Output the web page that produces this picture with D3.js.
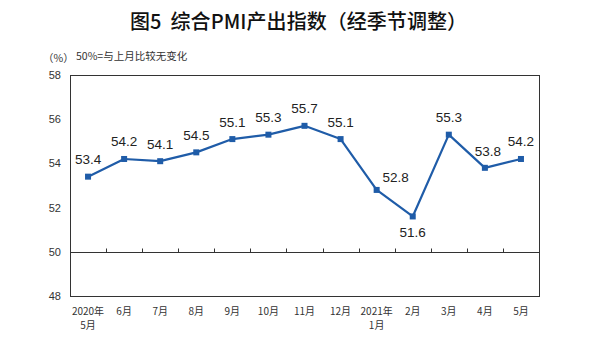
<!DOCTYPE html>
<html>
<head>
<meta charset="utf-8">
<script src="https://cdn.jsdelivr.net/npm/d3@7"></script>
<style>
  html, body { margin: 0; padding: 0; background: #fff; }
  svg { display: block; }
</style>
</head>
<body>
<svg id="chart" width="596" height="339"></svg>
<script>
// Composite PMI output index, seasonally adjusted
const categories = ["2020年\n5月", "6月", "7月", "8月", "9月", "10月", "11月", "12月",
                    "2021年\n1月", "2月", "3月", "4月", "5月"];
const values = [53.4, 54.2, 54.1, 54.5, 55.1, 55.3, 55.7, 55.1, 52.8, 51.6, 55.3, 53.8, 54.2];
const yTicks = [48, 50, 52, 54, 56, 58];

const svg = d3.select("#chart");
const W = 596, H = 339;
const plot = { left: 70, right: 539, top: 75, bottom: 296 };
const lineColor = "#1f5ca8";
const axisColor = "#333";

svg.append("rect").attr("width", W).attr("height", H).attr("fill", "#fff");

const x = d3.scaleBand().domain(d3.range(categories.length))
  .range([plot.left, plot.right]).padding(0);
const y = d3.scaleLinear().domain([48, 58]).range([plot.bottom, plot.top]);
const cx = i => x(i) + x.bandwidth() / 2;

// Title
svg.append("text")
  .attr("x", 130).attr("y", 29)
  .attr("font-family", "'Noto Sans CJK SC', sans-serif")
  .attr("font-weight", 500)
  .attr("font-size", 20)
  .attr("fill", "#111")
  .style("white-space", "pre")
  .attr("textLength", 337)
  .attr("lengthAdjust", "spacing")
  .text("图5  综合PMI产出指数（经季节调整）");

// Unit and note
svg.append("text")
  .attr("x", 43).attr("y", 62)
  .attr("font-family", "'Noto Sans CJK SC', sans-serif")
  .attr("font-size", 10.5).attr("fill", "#333")
  .text("（%）");
svg.append("text")
  .attr("x", 76).attr("y", 60)
  .attr("font-family", "'Noto Sans CJK SC', sans-serif")
  .attr("font-size", 10.5).attr("fill", "#333")
  .text("50%=与上月比较无变化");

// Plot frame
svg.append("rect")
  .attr("x", plot.left + 0.5).attr("y", plot.top + 0.5)
  .attr("width", plot.right - plot.left).attr("height", plot.bottom - plot.top)
  .attr("fill", "none").attr("stroke", axisColor).attr("stroke-width", 1);

// Y axis labels
const yAxis = d3.axisLeft(y).tickValues(yTicks).tickSize(0).tickPadding(9).tickFormat(d3.format("d"));
const gy = svg.append("g").attr("transform", `translate(${plot.left},0)`).call(yAxis);
gy.select(".domain").remove();
gy.selectAll("text")
  .attr("font-family", "'Liberation Sans', Arial, sans-serif")
  .attr("font-size", 11).attr("fill", "#333");

// Category axis sits on the 50 line, ticks at band boundaries
const base = Math.round(y(50)) + 0.5;
svg.append("line")
  .attr("x1", plot.left).attr("x2", plot.right)
  .attr("y1", base).attr("y2", base)
  .attr("stroke", axisColor).attr("stroke-width", 1);
svg.append("g").selectAll("line")
  .data(d3.range(1, categories.length))
  .join("line")
  .attr("x1", i => Math.round(x(i)) + 0.5).attr("x2", i => Math.round(x(i)) + 0.5)
  .attr("y1", base).attr("y2", base - 4)
  .attr("stroke", axisColor).attr("stroke-width", 1);

// Category labels below the plot
const xl = svg.append("g").selectAll("text")
  .data(categories)
  .join("text")
  .attr("x", (d, i) => cx(i))
  .attr("y", 315)
  .attr("text-anchor", "middle")
  .attr("font-family", "'Noto Sans CJK SC', sans-serif")
  .attr("font-size", 10).attr("fill", "#333");
xl.each(function (d) {
  const lines = d.split("\n");
  const t = d3.select(this);
  lines.forEach((ln, k) => {
    t.append("tspan").attr("x", t.attr("x")).attr("dy", k === 0 ? 0 : 14).text(ln);
  });
});

// Line and markers
const line = d3.line().x((d, i) => cx(i)).y(d => y(d));
svg.append("path")
  .datum(values)
  .attr("d", line)
  .attr("fill", "none")
  .attr("stroke", lineColor)
  .attr("stroke-width", 2.2)
  .attr("stroke-linejoin", "round");

const m = 6;
svg.append("g").selectAll("rect")
  .data(values)
  .join("rect")
  .attr("x", (d, i) => cx(i) - m / 2)
  .attr("y", d => y(d) - m / 2)
  .attr("width", m).attr("height", m)
  .attr("fill", lineColor);

// Value labels: above the point, except where the line dips
const labelOffset = (d, i) => {
  if (i === 8) return [19, -8];
  if (i === 9) return [0, 21];
  if (i === 11) return [3, -12];
  return [0, -12.5];
};
svg.append("g").selectAll("text")
  .data(values)
  .join("text")
  .attr("x", (d, i) => cx(i) + labelOffset(d, i)[0])
  .attr("y", (d, i) => y(d) + labelOffset(d, i)[1])
  .attr("text-anchor", "middle")
  .attr("font-family", "'Liberation Sans', Arial, sans-serif")
  .attr("font-size", 13.5).attr("fill", "#222")
  .text(d => d3.format(".1f")(d));
</script>
</body>
</html>
